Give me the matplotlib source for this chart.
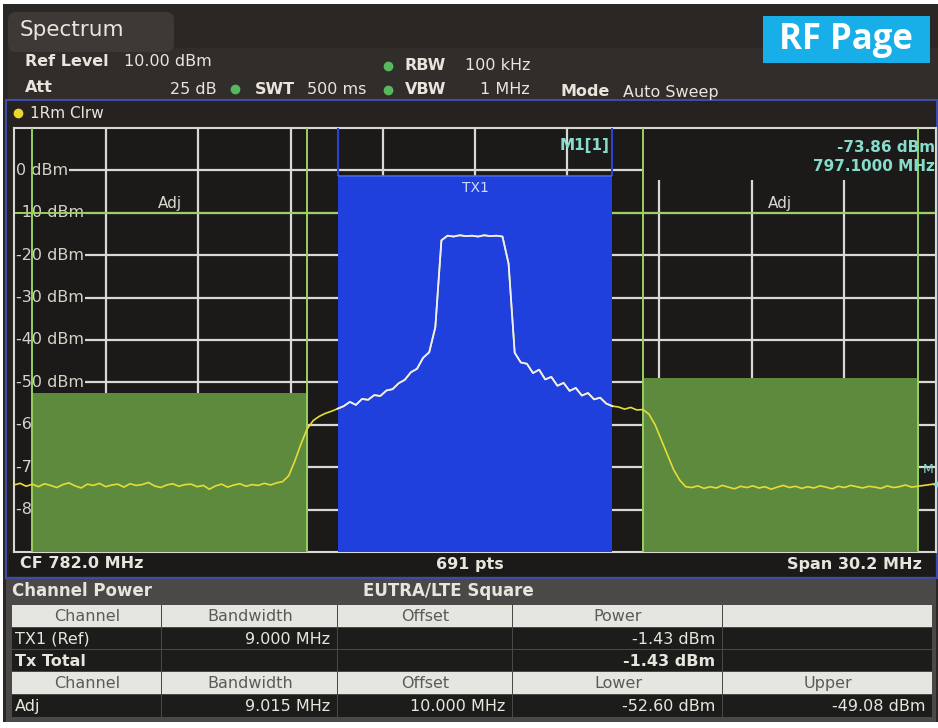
'''
Spectrum analyser screen: ACLR / channel power on an LTE carrier
'''

import numpy as np
import matplotlib.pyplot as plt
from matplotlib.patches import Rectangle, FancyBboxPatch


#########################################
# instrument settings

centre_freq = 782.0   # MHz
span = 30.2           # MHz
ref_level = 10.0      # dBm
n_div = 10
n_pts = 691

# channel setup (MHz)
tx_bw = 9.000
adj_bw = 9.015
adj_offset = 10.000

# measured channel powers (dBm)
tx_power = -1.43
tx_total = -1.43
adj_lower = -52.60
adj_upper = -49.08

# marker 1
m1_freq = 797.1
m1_level = -73.86

# trace, one value every 0.2 MHz from 766.9 to 797.1 MHz
trace_db = [
  -74.2, -73.8, -74.5, -74.0, -74.6, -73.9, -74.3, -74.8, -74.1, -73.7,
  -74.4, -74.9, -74.0, -74.3, -73.8, -74.6, -74.2, -74.0, -74.7, -73.9,
  -74.3, -74.1, -73.6, -74.4, -74.8, -74.2, -73.9, -74.5, -74.1, -74.0,
  -74.6, -74.3, -75.2, -74.4, -74.0, -74.7, -74.2, -73.9, -74.5, -74.1,
  -74.3, -73.8, -74.2, -73.7, -73.4,
  -72.0, -68.5, -64.5, -61.0, -59.0, -58.0, -57.3, -56.8, -56.2,
  -55.6, -54.6, -55.3, -53.9, -54.1, -53.0, -53.2, -51.9, -51.6, -50.2,
  -49.4, -47.6, -46.8, -44.2, -42.9, -37.0,
  -16.5, -15.4, -15.6, -15.3, -15.5, -15.4, -15.6, -15.3, -15.5, -15.4, -15.6,
  -22.0, -43.0, -45.3, -45.6, -47.8, -47.0, -49.3, -48.7, -50.8, -50.1,
  -52.0, -51.3, -53.1, -52.5, -54.0, -53.6, -55.0, -55.6,
  -55.8, -56.3, -55.9, -56.5, -56.4, -57.5, -60.0, -63.5, -67.0, -70.5, -73.0, -74.6,
  -74.8, -74.4, -75.0, -74.6, -74.9, -74.3, -74.7, -75.1, -74.5, -74.8,
  -74.4, -74.9, -74.6, -75.2, -74.7, -74.3, -74.8, -74.5, -75.0, -74.6,
  -74.9, -74.4, -74.7, -75.1, -74.5, -74.8, -74.3, -74.6, -74.9, -74.5,
  -74.7, -75.0, -74.4, -74.8, -74.6, -74.2, -74.7, -74.5, -74.3, -74.1, -73.86,
]

# table text
head_1 = ["Channel", "Bandwidth", "Offset", "Power", ""]
head_2 = ["Channel", "Bandwidth", "Offset", "Lower", "Upper"]


#########################################
# colours

screen = '#2a2724'
plotBg = '#1c1a18'
gridCol = '#d8d8d4'
greenLine = '#9ad060'
greenFill = '#5d8a3c'
blueFill = '#1f40dc'
yellow = '#e4dc3a'
teal = '#86dccc'
textCol = '#e8e6dc'


#########################################

f_start = centre_freq - span / 2
f_stop = centre_freq + span / 2
freqs = np.linspace(f_start, f_stop, len(trace_db))
trace = np.array(trace_db)

tx_lo, tx_hi = centre_freq - tx_bw / 2, centre_freq + tx_bw / 2
lo_lo, lo_hi = centre_freq - adj_offset - adj_bw / 2, centre_freq - adj_offset + adj_bw / 2
up_lo, up_hi = centre_freq + adj_offset - adj_bw / 2, centre_freq + adj_offset + adj_bw / 2
bottom = ref_level - 10 * n_div

fig = plt.figure(figsize=(9.38, 7.28), dpi=100)
fig.patch.set_facecolor('white')

# background layer in pixel coordinates
bg = fig.add_axes([0, 0, 1, 1])
bg.set_xlim(0, 938)
bg.set_ylim(728, 0)
bg.axis('off')
bg.set_zorder(0)

bg.add_patch(Rectangle((3, 4), 935, 718, fc=screen, ec='none'))
bg.add_patch(Rectangle((8, 48), 930, 52, fc='#302d2a', ec='none'))
bg.add_patch(FancyBboxPatch((8, 12), 166, 40, boxstyle='round,pad=0,rounding_size=8', fc='#3c3936', ec='none'))
bg.text(20, 30, "Spectrum", fontsize=15.5, color=textCol, va='center')

# RF Page badge
bg.add_patch(Rectangle((763, 16), 167, 47, fc='#18aee8', ec='none'))
bg.text(846, 40, "RF Page", fontsize=25, color='white', fontweight='bold', family='Open Sans', ha='center', va='center')

# header settings
hdr = dict(fontsize=11.5, color=textCol, va='center')
bg.text(25, 62, "Ref Level", fontweight='bold', **hdr)
bg.text(124, 62, "%.2f dBm" % ref_level, **hdr)
bg.text(25, 87, "Att", fontweight='bold', **hdr)
bg.text(217, 89, "25 dB", ha='right', **hdr)
bg.text(255, 90, "SWT", fontweight='bold', **hdr)
bg.text(307, 90, "500 ms", **hdr)
bg.text(405, 66, "RBW", fontweight='bold', **hdr)
bg.text(465, 66, "100 kHz", **hdr)
bg.text(405, 90, "VBW", fontweight='bold', **hdr)
bg.text(530, 90, "1 MHz", ha='right', **hdr)
bg.text(560, 92, "Mode", fontweight='bold', **hdr)
bg.text(623, 92, "Auto Sweep", **hdr)
for (x, y) in [(235, 89), (388, 66), (388, 90)]:
  bg.plot(x, y, 'o', ms=6, color='#58b860')

# graph window
bg.add_patch(Rectangle((6, 100), 931, 478, fc='#252220', ec='#3c4ca8', lw=1.5))
bg.plot(18, 113, 'o', ms=6, color='#e8d830')
bg.text(30, 113, "1Rm Clrw", fontsize=11, color=textCol, va='center')

# bottom strip
bg.add_patch(Rectangle((9, 553), 926, 23, fc='#1b1a19', ec='none'))
strip = dict(fontsize=11.5, color=textCol, fontweight='bold', va='center')
bg.text(20, 564, "CF %.1f MHz" % centre_freq, **strip)
bg.text(470, 564, "%d pts" % n_pts, ha='center', **strip)
bg.text(922, 564, "Span %.1f MHz" % span, ha='right', **strip)


#########################################
# spectrum graticule

ax = fig.add_axes([14 / 938, 176 / 728, 922 / 938, 424 / 728])
ax.set_zorder(2)
ax.set_facecolor(plotBg)
ax.set_xlim(f_start, f_stop)
ax.set_ylim(bottom, ref_level)
ax.set_xticks([])
ax.set_yticks([])
for s in ax.spines.values():
  s.set_color(gridCol)
  s.set_linewidth(1.5)

for f in np.linspace(f_start, f_stop, n_div + 1)[1:-1]:
  ax.axvline(f, color=gridCol, lw=1.6, zorder=1)
for lev in np.arange(bottom + 10, ref_level, 10):
  ax.axhline(lev, color=gridCol, lw=1.6, zorder=1)

# level labels sit on the lines
for lev in np.arange(0, bottom, -10):
  ax.text(f_start + 0.05, lev, "%d dBm" % lev, fontsize=11.5, color='#d4d2c8', va='center', ha='left',
          zorder=2, bbox=dict(fc=plotBg, ec='none', pad=1))

# marker readout box top right
ax.add_patch(Rectangle((up_lo, -2.3), f_stop - up_lo, ref_level + 2.3, fc=plotBg, ec='none', zorder=1.5))

# ACLR limit line
ax.axhline(-10, color=greenLine, lw=1.4, zorder=2.5)

# channel power bars
ax.fill_between([lo_lo, lo_hi], bottom, adj_lower, color=greenFill, lw=0, zorder=3)
ax.fill_between([up_lo, up_hi], bottom, adj_upper, color=greenFill, lw=0, zorder=3)
ax.fill_between([tx_lo, tx_hi], bottom, tx_power, color=blueFill, lw=0, zorder=3)
ax.vlines([tx_lo, tx_hi], tx_power, ref_level, color='#2c44c8', lw=1.5, zorder=3.5)
ax.hlines(tx_power, tx_lo, tx_hi, color='#4a66f0', lw=1.2, zorder=3.5)

for f in [lo_lo, lo_hi, up_lo, up_hi]:
  ax.axvline(f, color=greenLine, lw=1.4, zorder=4)

# trace: yellow, drawn white over the TX channel
ax.plot(freqs, trace, color=yellow, lw=1.2, zorder=5)
inTx = (freqs >= tx_lo - 1e-6) & (freqs <= tx_hi + 1e-6)
ax.plot(freqs[inTx], trace[inTx], color='#eeeefa', lw=1.3, zorder=5.5)

ax.text((lo_lo + lo_hi) / 2, -9.5, "Adj", fontsize=11, color='#d8d8d0', ha='center', va='bottom', zorder=6)
ax.text((up_lo + up_hi) / 2, -9.5, "Adj", fontsize=11, color='#d8d8d0', ha='center', va='bottom', zorder=6)
ax.text(centre_freq, -2.4, "TX1", fontsize=10, color='#d4dcff', ha='center', va='top', zorder=6)
ax.text(tx_hi - 0.1, 5.8, "M1[1]", fontsize=11, color=teal, fontweight='bold', ha='right', va='center', zorder=6)
ax.text(f_stop - 0.03, 5.4, "%.2f dBm" % m1_level, fontsize=11, color=teal, fontweight='bold', ha='right', va='center', zorder=6)
ax.text(f_stop - 0.03, 0.9, "%.4f MHz" % m1_freq, fontsize=11, color=teal, fontweight='bold', ha='right', va='center', zorder=6)
ax.text(f_stop - 0.08, -70.5, "M", fontsize=9, color=teal, ha='right', va='center', zorder=6)
ax.plot(m1_freq, m1_level, marker='<', ms=5, color=teal, zorder=6, clip_on=False)


#########################################
# channel power table

bg.add_patch(Rectangle((6, 579), 930, 143, fc='#4a4947', ec='none'))
bg.text(12, 591, "Channel Power", fontsize=12, color=textCol, fontweight='bold', va='center')
bg.text(448, 591, "EUTRA/LTE Square", fontsize=12, color=textCol, fontweight='bold', va='center', ha='center')

colX = [12, 162, 338, 513, 723, 933]
rowY = [605, 628, 650, 672, 695, 718]
rows = [
  (head_1, True, False),
  (["TX1 (Ref)", "%.3f MHz" % tx_bw, "", "%.2f dBm" % tx_power, ""], False, False),
  (["Tx Total", "", "", "%.2f dBm" % tx_total, ""], False, True),
  (head_2, True, False),
  (["Adj", "%.3f MHz" % adj_bw, "%.3f MHz" % adj_offset, "%.2f dBm" % adj_lower, "%.2f dBm" % adj_upper], False, False),
]

for i, (cells, isHead, isBold) in enumerate(rows):
  y0, y1 = rowY[i], rowY[i + 1]
  for j, txt in enumerate(cells):
    x0, x1 = colX[j], colX[j + 1]
    fc = '#e6e6e0' if isHead else '#1c1c1b'
    bg.add_patch(Rectangle((x0, y0), x1 - x0 - 1.5, y1 - y0 - 1.5, fc=fc, ec='none'))
    if not txt:
      continue
    yc = (y0 + y1) / 2
    weight = 'bold' if isBold else 'normal'
    if isHead:
      bg.text((x0 + x1) / 2, yc, txt, fontsize=11.5, color='#5a5a58', ha='center', va='center')
    elif j == 0:
      bg.text(x0 + 3, yc, txt, fontsize=11.5, color=textCol, ha='left', va='center', fontweight=weight)
    else:
      bg.text(x1 - 8, yc, txt, fontsize=11.5, color=textCol, ha='right', va='center', fontweight=weight)

fig.savefig('out.png', dpi=100, facecolor=fig.get_facecolor())
plt.close()
